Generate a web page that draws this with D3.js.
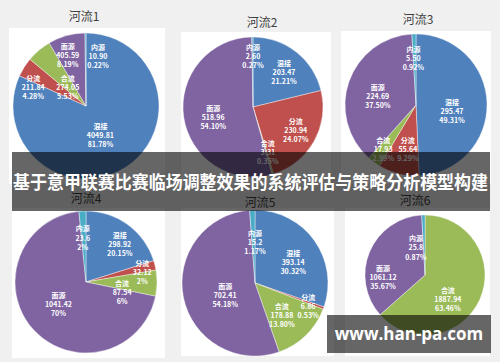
<!DOCTYPE html>
<html>
<head>
<meta charset="utf-8">
<script src="https://cdn.jsdelivr.net/npm/d3@7"></script>
<style>
  html, body { margin: 0; padding: 0; background: #f0f0f0; }
  svg { display: block; }
</style>
</head>
<body>
<script>
(function () {
    'use strict';

    const width = 500;
    const height = 362;

    // categories (slice order, clockwise from 12 o'clock)
    const categories = ['混接', '分流', '合流', '面源', '内源'];
    const colors = ['#4f81bd', '#c0504d', '#9bbb59', '#8064a2', '#4bacc6'];

    const titles = ['河流1', '河流2', '河流3', '河流4', '河流5', '河流6'];

    const river1 = [4049.81, 211.84, 274.05, 405.59, 10.90];
    const river2 = [203.47, 230.94, 3.31, 518.96, 2.60];
    const river3 = [295.47, 55.64, 17.93, 224.69, 5.50];
    const river4 = [298.92, 32.12, 87.54, 1041.42, 23.6];
    const river5 = [393.14, 6.86, 178.88, 702.41, 15.2];
    const river6 = [0, 0, 1887.94, 1061.12, 25.8];

    const pct1 = ['81.78%', '4.28%', '5.53%', '8.19%', '0.22%'];
    const pct2 = ['21.21%', '24.07%', '0.35%', '54.10%', '0.27%'];
    const pct3 = ['49.31%', '9.29%', '2.99%', '37.50%', '0.92%'];
    const pct4 = ['20.15%', '2%', '6%', '70%', '2%'];
    const pct5 = ['30.32%', '0.53%', '13.80%', '54.18%', '1.17%'];
    const pct6 = ['', '', '63.46%', '35.67%', '0.87%'];

    const series = [river1, river2, river3, river4, river5, river6];
    const percents = [pct1, pct2, pct3, pct4, pct5, pct6];
    const fixedDecimals = [true, true, true, false, false, false];

    // layout of each panel: white box, pie centre/radius, title anchor
    const panels = [
        {box: [9, 28, 165, 184], cx: 86, cy: 106, r: 73, tx: 84, ty: 21},
        {box: [181, 32, 331, 186], cx: 253, cy: 107, r: 70, tx: 262, ty: 27},
        {box: [341, 31, 491, 184], cx: 416, cy: 105, r: 71, tx: 418, ty: 24},
        {box: [12, 208, 165, 358], cx: 86, cy: 282, r: 71, tx: 86, ty: 203},
        {box: [181, 208, 334, 356], cx: 255, cy: 283, r: 73, tx: 260, ty: 207},
        {box: [345, 208, 490, 356], cx: 425, cy: 275, r: 60, tx: 415, ty: 205}
    ];

    // label anchors: [angle from top in degrees, fraction of radius]
    const labelAt = [
        [[152, 0.42], [292, 0.78], [319, 0.38], [341, 0.77], [13, 0.73]],
        [[40, 0.69], [116, 0.68], [161, 0.65], [259, 0.58], [0, 0.76]],
        [[96, 0.51], [191, 0.60], [218, 0.75], [286, 0.56], [357, 0.70]],
        [[40, 0.74], [78, 0.81], [102, 0.52], [234, 0.48], [356, 0.66]],
        [[59, 0.61], [111, 0.78], [138, 0.55], [252, 0.43], [0, 0.59]],
        [null, null, [134, 0.53], [270, 0.70], [343, 0.52]]
    ];

    const svg = d3.select('body')
        .append('svg')
        .attr('width', width)
        .attr('height', height);

    svg.append('rect')
        .attr('width', width)
        .attr('height', height)
        .attr('fill', '#f0f0f0');

    const pie = d3.pie().sort(null).value(d => d);
    const f2 = d3.format('.2f');

    panels.forEach((p, i) => {
        const g = svg.append('g');

        g.append('rect')
            .attr('x', p.box[0])
            .attr('y', p.box[1])
            .attr('width', p.box[2] - p.box[0])
            .attr('height', p.box[3] - p.box[1])
            .attr('fill', '#ffffff');

        g.append('text')
            .attr('x', p.tx)
            .attr('y', p.ty)
            .attr('text-anchor', 'middle')
            .attr('font-family', '"Noto Sans CJK SC", sans-serif')
            .attr('font-size', 12)
            .attr('fill', '#404040')
            .text(titles[i]);

        const arc = d3.arc().innerRadius(0).outerRadius(p.r);
        const arcs = pie(series[i]);

        const pg = g.append('g')
            .attr('transform', `translate(${p.cx},${p.cy})`);

        pg.selectAll('path')
            .data(arcs.filter(d => d.value > 0))
            .enter().append('path')
            .attr('d', arc)
            .attr('fill', d => colors[d.index])
            .attr('stroke', '#ffffff')
            .attr('stroke-width', 0.4);

        const labels = pg.selectAll('.label')
            .data(arcs.filter(d => d.value > 0 && labelAt[i][d.index]))
            .enter().append('text')
            .attr('class', 'label')
            .attr('text-anchor', 'middle')
            .attr('font-family', '"Noto Sans CJK SC", "DejaVu Sans", sans-serif')
            .attr('font-weight', 'bold')
            .attr('font-size', 7)
            .attr('fill', '#ffffff')
            .attr('transform', d => {
                const a = labelAt[i][d.index][0] * Math.PI / 180;
                const rr = labelAt[i][d.index][1] * p.r;
                return `translate(${rr * Math.sin(a)},${-rr * Math.cos(a)})`;
            });

        labels.append('tspan')
            .attr('x', 0)
            .attr('dy', '-0.55em')
            .text(d => categories[d.index]);
        labels.append('tspan')
            .attr('x', 0)
            .attr('dy', '1.3em')
            .text(d => fixedDecimals[i] ? f2(d.value) : String(d.value));
        labels.append('tspan')
            .attr('x', 0)
            .attr('dy', '1.3em')
            .text(d => percents[i][d.index]);
    });

    // banner across the middle
    svg.append('rect')
        .attr('x', 12)
        .attr('y', 152)
        .attr('width', 478)
        .attr('height', 59)
        .attr('fill', 'rgba(0,0,0,0.6)');

    svg.append('text')
        .attr('x', 13)
        .attr('y', 189)
        .attr('font-family', '"Noto Sans CJK SC", sans-serif')
        .attr('font-weight', 'bold')
        .attr('font-size', 18)
        .attr('textLength', 475)
        .attr('lengthAdjust', 'spacingAndGlyphs')
        .attr('fill', '#ffffff')
        .text('基于意甲联赛比赛临场调整效果的系统评估与策略分析模型构建');

    // watermark
    svg.append('rect')
        .attr('x', 327)
        .attr('y', 315)
        .attr('width', 164)
        .attr('height', 38)
        .attr('fill', 'rgba(0,0,0,0.6)');

    svg.append('text')
        .attr('x', 409)
        .attr('y', 340)
        .attr('text-anchor', 'middle')
        .attr('font-family', '"Open Sans", "Liberation Sans", sans-serif')
        .attr('font-weight', 'bold')
        .attr('font-size', 17)
        .attr('fill', '#ffffff')
        .text('www.han-pa.com');
}());
</script>
</body>
</html>
